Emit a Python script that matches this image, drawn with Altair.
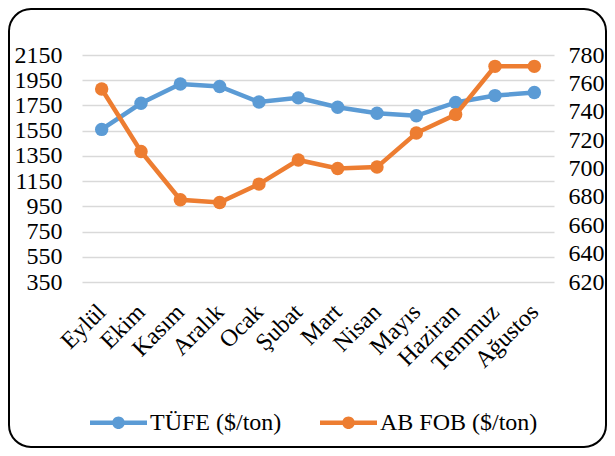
import altair as alt
import pandas as pd

months = ["Eylül", "Ekim", "Kasım", "Aralık", "Ocak", "Şubat", "Mart",
          "Nisan", "Mayıs", "Haziran", "Temmuz", "Ağustos"]
tufe = [1560, 1767, 1920, 1900, 1777, 1810, 1736, 1688, 1668, 1774, 1828, 1852]
abfob = [756, 712, 678, 676, 689, 706, 700, 701, 725, 738, 772, 772]
series = ["TÜFE ($/ton)", "AB FOB ($/ton)"]
colors = ["#5b9bd5", "#ed7d31"]
left_ticks = list(range(350, 2151, 200))
right_ticks = list(range(620, 781, 20))

df_blue = pd.DataFrame({"month": months, "value": tufe, "series": series[0]})
df_orange = pd.DataFrame({"month": months, "value": abfob, "series": series[1]})

FONT = "Liberation Serif, Times New Roman, serif"
FS = 24
W, H = 472, 227

color_scale = alt.Scale(domain=series, range=colors)
legend_path = ("M-1,-0.075 L1,-0.075 L1,0.075 L-1,0.075 Z "
               "M0.22,0 A0.22,0.22 0 1,1 -0.22,0 A0.22,0.22 0 1,1 0.22,0 Z")
legend = alt.Legend(title=None, orient="none", legendX=8, legendY=339,
                    direction="horizontal", columns=2, symbolType=legend_path,
                    symbolSize=3249, symbolStrokeWidth=0, labelFont=FONT,
                    labelFontSize=FS, labelColor="black", labelOffset=3,
                    columnPadding=38, labelLimit=300)
color = alt.Color("series:N", scale=color_scale, legend=legend)

x = alt.X("month:N", sort=months, title=None,
          axis=alt.Axis(labelAngle=-45, labelAlign="right", labelBaseline="middle",
                        labelPadding=26, labelFont=FONT, labelFontSize=FS,
                        labelColor="black", domain=False, ticks=False, grid=False))

y_left = alt.Y("value:Q", title=None,
               scale=alt.Scale(domain=[350, 2150], nice=False, zero=False),
               axis=alt.Axis(values=left_ticks, format="d", orient="left", labelFont=FONT,
                             labelFontSize=FS, labelColor="black", labelPadding=20,
                             domain=False, ticks=False, grid=True,
                             gridColor="#d9d9d9", gridWidth=1.5))
y_right = alt.Y("value:Q", title=None,
                scale=alt.Scale(domain=[620, 780], nice=False, zero=False),
                axis=alt.Axis(values=right_ticks, format="d", orient="right", labelFont=FONT,
                              labelFontSize=FS, labelColor="black", labelPadding=14,
                              labelAlign="left", domain=False, ticks=False, grid=False))

bb = alt.Chart(df_blue)
ob = alt.Chart(df_orange)
blue = alt.layer(
    bb.mark_line(strokeWidth=4.5).encode(x=x, y=y_left, color=color),
    bb.mark_circle(size=180, opacity=1).encode(x=x, y=y_left, color=color),
)
orange = alt.layer(
    ob.mark_line(strokeWidth=4.5).encode(x=x, y=y_right, color=color),
    ob.mark_circle(size=180, opacity=1).encode(x=x, y=y_right, color=color),
)

border = alt.Chart(pd.DataFrame({"a": [0]})).mark_rect(
    fillOpacity=0, stroke="black", strokeWidth=2, cornerRadius=22
).encode(x=alt.value(-73), x2=alt.value(524), y=alt.value(-46), y2=alt.value(392))

chart = alt.layer(border, blue, orange).resolve_scale(y="independent").properties(
    width=W, height=H,
    autosize=alt.AutoSizeParams(type="none"),
    padding={"left": 74, "top": 47, "right": 53, "bottom": 166},
).configure_view(stroke=None)

chart.save("out.html", embed_options={"renderer": "svg", "actions": False})
